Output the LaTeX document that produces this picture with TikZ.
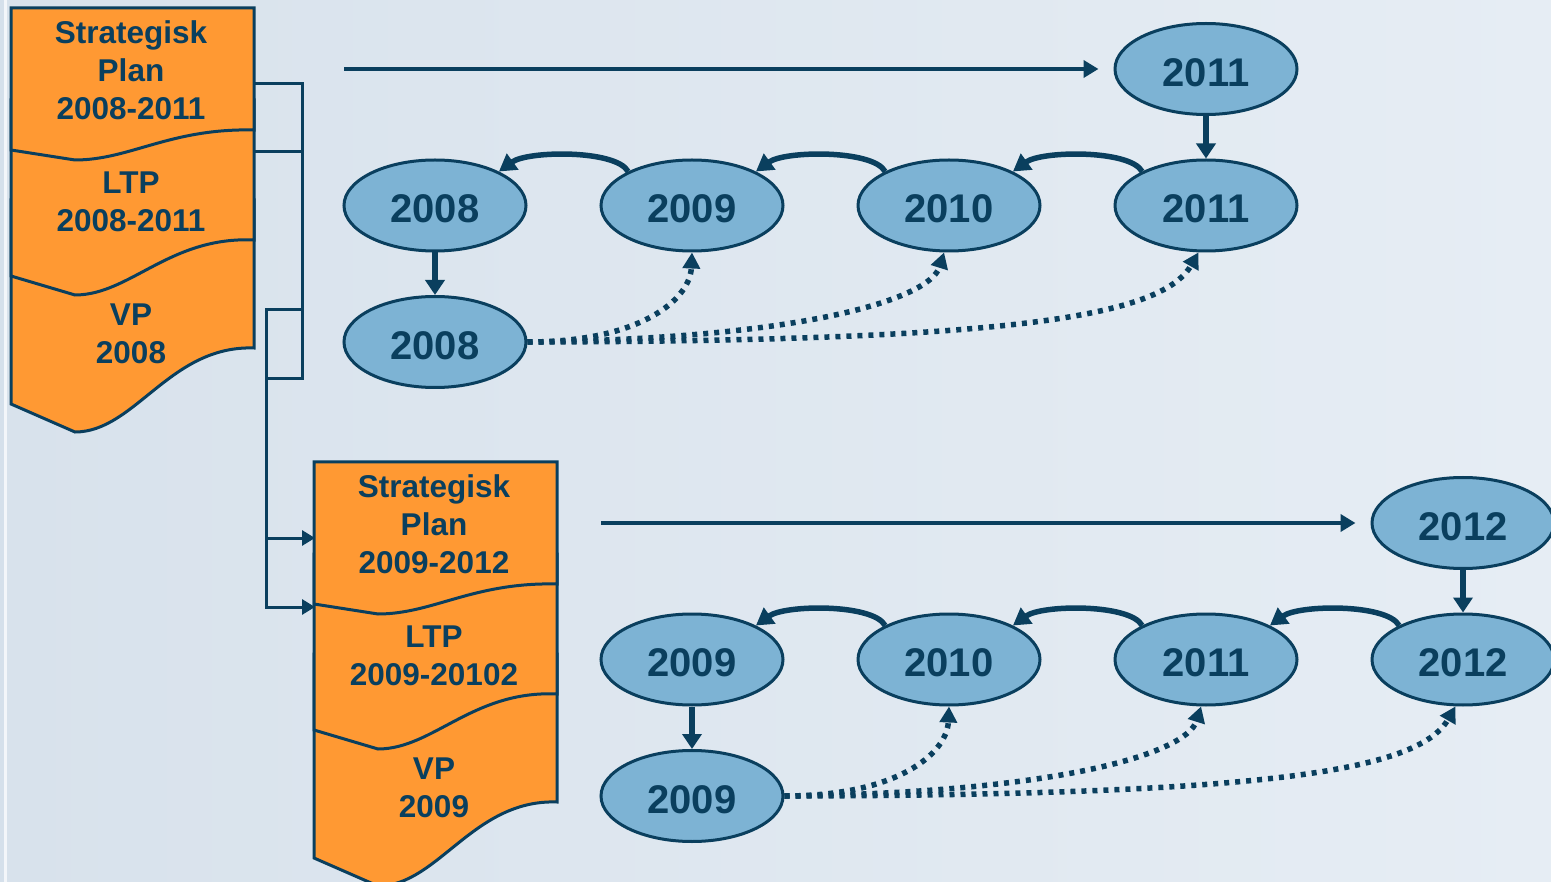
\documentclass[tikz,border=0pt]{standalone}
\usepackage{fontspec}
\setmainfont{Liberation Sans}
\usetikzlibrary{shapes.geometric,arrows.meta,calc}
\definecolor{navy}{HTML}{0A3F5E}
\definecolor{docorange}{HTML}{FF9933}
\definecolor{ellblue}{HTML}{7DB3D4}
\definecolor{bgl}{HTML}{D8E2EC}
\definecolor{bgr}{HTML}{E6EDF4}
\definecolor{edgel}{HTML}{D5E0EB}
\definecolor{edgew}{HTML}{F3F6FA}
\newcommand\mydocshape{%
  \path[docsec] (11,200) -- (254,200) -- (254,348) .. controls (170,345) and (135,432) .. (75,432) -- (11,404) -- cycle;
  \path[docsec] (11,100) -- (254,100) -- (254,240) .. controls (170,236) and (130,295) .. (75,295) -- (11,276) -- cycle;
  \path[docsec] (11,8) -- (254,8) -- (254,130) .. controls (170,128) and (130,160) .. (75,160) -- (11,150) -- cycle;
}
\begin{document}
\begin{tikzpicture}[x=1pt,y=-1pt,
  yearnode/.style={ellipse, draw=navy, line width=3pt, fill=ellblue, minimum width=182pt, minimum height=91pt, inner sep=0pt, text=navy, text height=34.5pt, text depth=0pt, font=\fontsize{40}{48}\selectfont\bfseries},
  doctext/.style={text=navy, align=center, inner sep=0pt, font=\fontsize{31.5}{37.8}\selectfont\bfseries},
  docsec/.style={draw=navy, line width=3pt, fill=docorange, line join=miter},
  bracket/.style={draw=navy, line width=3pt},
  bracketarrow/.style={bracket, -{Triangle[length=13pt,width=15pt]}},
  longarrow/.style={draw=navy, line width=4.5pt, -{Triangle[length=15pt,width=17pt]}},
  downarrow/.style={draw=navy, line width=5.5pt, -{Triangle[length=15pt,width=19pt]}},
  arcarrow/.style={draw=navy, line width=5.5pt, -{Triangle[length=17pt,width=19pt]}},
  dotarrow/.style={draw=navy, line width=5.5pt, dash pattern=on 5pt off 6pt, -{Triangle[length=16pt,width=17pt]}},
]
\path[use as bounding box] (0,0) rectangle (1551,882);
\clip (0,0) rectangle (1551,882);
\fill[left color=bgl, right color=bgr] (0,0) rectangle (1551,882);
\fill[edgel] (0,0) rectangle (3.5,882);
\fill[edgew] (3.5,0) rectangle (6.5,882);

% documents
\mydocshape
\begin{scope}[shift={(303,454)}]
\mydocshape
\end{scope}

\node[doctext] (sp1) at (131,70.5) {Strategisk\\Plan\\2008-2011};
\node[doctext] (ltp1) at (131,201.7) {LTP\\2008-2011};
\node[doctext] (vp1) at (131,333.7) {VP\\2008};
\node[doctext] (sp2) at (434,524.5) {Strategisk\\Plan\\2009-2012};
\node[doctext] (ltp2) at (434,655.7) {LTP\\2009-20102};
\node[doctext] (vp2) at (434,787.7) {VP\\2009};

% brackets
\coordinate (d1a) at (254,84);
\coordinate (d1b) at (254,152);
\coordinate (j1) at (302,84);
\coordinate (j2) at (302,152);
\coordinate (j3) at (302,379);
\coordinate (k3) at (266,379);
\coordinate (j4) at (302,310);
\coordinate (k4) at (266,310);
\coordinate (k5) at (266,538);
\coordinate (k6) at (266,607);
\coordinate (e1) at (315,538);
\coordinate (e2) at (315,607);
\draw[bracket] (d1a) -- (j1) -- (j3) -- (k3);
\draw[bracket] (d1b) -- (j2);
\draw[bracketarrow] (j4) -- (k4) -- (k6) -- (e2);
\draw[bracketarrow] (k5) -- (e1);

% year ellipses, first plan
\node[yearnode] (a11) at (1206,69) {2011};
\node[yearnode] (a08) at (435,205.5) {2008};
\node[yearnode] (a09) at (692,205.5) {2009};
\node[yearnode] (a10) at (949,205.5) {2010};
\node[yearnode] (a11b) at (1206,205.5) {2011};
\node[yearnode] (a08b) at (435,342) {2008};

% year ellipses, second plan
\node[yearnode] (b12) at (1463,523) {2012};
\node[yearnode] (b09) at (692,659.5) {2009};
\node[yearnode] (b10) at (949,659.5) {2010};
\node[yearnode] (b11) at (1206,659.5) {2011};
\node[yearnode] (b12b) at (1463,659.5) {2012};
\node[yearnode] (b09b) at (692,796) {2009};

% arrows first plan
\coordinate (s1) at (344,69);
\draw[longarrow] (s1) -- ([xshift=-15pt]a11.west);
\draw[downarrow] (a11.south) -- (a11b.north);
\draw[downarrow] (a08.south) -- (a08b.north);
\draw[arcarrow] (a09.152) .. controls +(-12,-22) and +(29,-21) .. (a08.28);
\draw[arcarrow] (a10.152) .. controls +(-12,-22) and +(29,-21) .. (a09.28);
\draw[arcarrow] (a11b.152) .. controls +(-12,-22) and +(29,-21) .. (a10.28);
\draw[dotarrow] (a08b.east) .. controls +(113,0) and +(-2,47) .. (a09.south);
\draw[dotarrow] (a08b.east) .. controls +(270,-3) and +(-15,48) .. (a10.264);
\draw[dotarrow] (a08b.east) .. controls +(473,-1) and +(-38,66) .. (a11b.261);

% arrows second plan
\coordinate (s2) at (601,523);
\draw[longarrow] (s2) -- ([xshift=-15pt]b12.west);
\draw[downarrow] (b12.south) -- (b12b.north);
\draw[downarrow] (b09.south) -- (b09b.north);
\draw[arcarrow] (b10.152) .. controls +(-12,-22) and +(29,-21) .. (b09.28);
\draw[arcarrow] (b11.152) .. controls +(-12,-22) and +(29,-21) .. (b10.28);
\draw[arcarrow] (b12b.152) .. controls +(-12,-22) and +(29,-21) .. (b11.28);
\draw[dotarrow] (b09b.east) .. controls +(113,0) and +(-2,47) .. (b10.south);
\draw[dotarrow] (b09b.east) .. controls +(270,-3) and +(-15,48) .. (b11.264);
\draw[dotarrow] (b09b.east) .. controls +(473,-1) and +(-38,66) .. (b12b.261);
\end{tikzpicture}
\end{document}
